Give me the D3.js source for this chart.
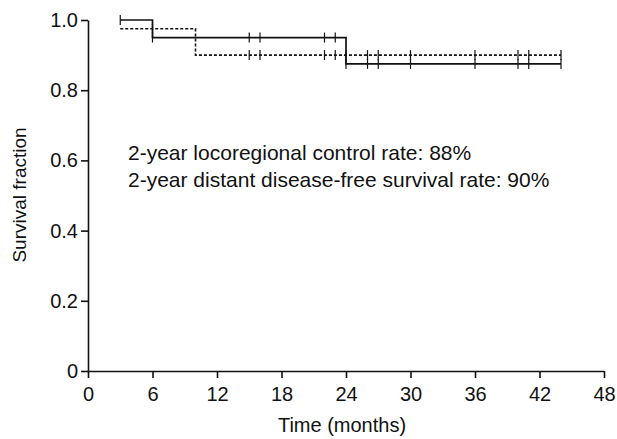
<!DOCTYPE html>
<html><head><meta charset="utf-8">
<script src="https://cdn.jsdelivr.net/npm/d3@7"></script>
<style>body{margin:0;background:#fff}svg{display:block}text{font-family:"Liberation Sans",Arial,sans-serif;fill:#111}</style>
</head><body>
<script>
// Locoregional control (solid): step points [time, survival]
const solidSteps = [[3,1.0],[6,0.95],[24,0.875],[44,0.875]];
const solidCensor = [3,6,15,16,22,23,24,26,27,30,36,40,41,44];
// Distant disease-free survival (dashed)
const dashSteps = [[3,0.975],[10,0.9],[44,0.9]];
const dashCensor = [6,15,16,22,23,24,26,27,30,36,40,41,44];
const xTicks = [0,6,12,18,24,30,36,42,48];
const yTicks = [0,0.2,0.4,0.6,0.8,1.0];
const annotations = ["2-year locoregional control rate: 88%","2-year distant disease-free survival rate: 90%"];

const W=617,H=439, L=88, R=604, T=20, B=371;
const svg=d3.select("body").append("svg").attr("width",W).attr("height",H);
const x=d3.scaleLinear().domain([0,48]).range([L,R]);
const y=d3.scaleLinear().domain([0,1]).range([B,T]);

const xa=svg.append("g").attr("transform",`translate(0,${B})`)
  .call(d3.axisBottom(x).tickValues(xTicks).tickFormat(d3.format("d")).tickSize(7).tickSizeOuter(0));
const ya=svg.append("g").attr("transform",`translate(${L},0)`)
  .call(d3.axisLeft(y).tickValues(yTicks).tickFormat(d=>d===0?"0":d3.format(".1f")(d)).tickSize(7).tickSizeOuter(0));
[xa,ya].forEach(a=>{a.selectAll("path,line").attr("stroke","#111").attr("stroke-width",1.6);
  a.selectAll("text").style("font-size","20px").attr("fill","#111");});
xa.selectAll("text").attr("y",16).attr("dy","0.71em");
ya.selectAll("text").attr("x",-10);

function stepLine(pts){return d3.line().x(d=>x(d[0])).y(d=>y(d[1])).curve(d3.curveStepAfter)(pts);}
svg.append("path").attr("d",stepLine(dashSteps)).attr("fill","none").attr("stroke","#111")
  .attr("stroke-width",1.6).attr("stroke-dasharray","3,2");
svg.append("path").attr("d",stepLine(solidSteps)).attr("fill","none").attr("stroke","#111").attr("stroke-width",1.7);

function valAt(steps,t){let v=steps[0][1];for(const s of steps){if(t>=s[0])v=s[1];}return v;}
function censor(times,steps){
  svg.append("g").selectAll("line").data(times).join("line")
    .attr("x1",d=>x(d)).attr("x2",d=>x(d))
    .attr("y1",d=>y(valAt(steps,d))-5).attr("y2",d=>y(valAt(steps,d))+5)
    .attr("stroke","#111").attr("stroke-width",1.2);
}
censor(solidCensor,solidSteps);
censor(dashCensor,dashSteps);

svg.append("g").selectAll("text").data(annotations).join("text")
  .attr("x",128).attr("y",(d,i)=>160+i*27).style("font-size","21px").text(d=>d);

svg.append("text").attr("x",342).attr("y",432).attr("text-anchor","middle").style("font-size","20px").text("Time (months)");
svg.append("text").attr("transform",`translate(26,195) rotate(-90)`).attr("text-anchor","middle").style("font-size","19px").text("Survival fraction");
</script>
</body></html>
